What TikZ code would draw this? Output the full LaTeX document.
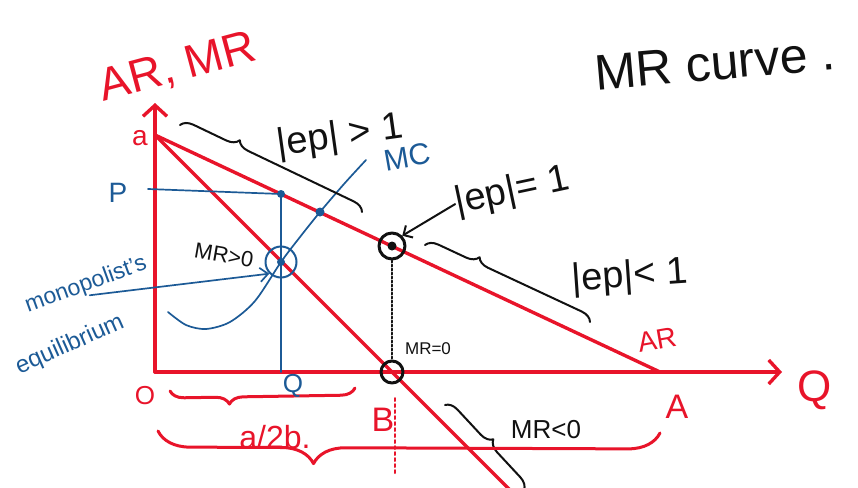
\documentclass[tikz,border=0pt]{standalone}
\usepackage{fontspec}
\setmainfont{Liberation Sans}
\usetikzlibrary{arrows.meta,decorations.pathreplacing}
\definecolor{pen}{HTML}{E8142A}
\definecolor{ink}{HTML}{1C5A96}
\definecolor{graphite}{HTML}{111111}
\tikzset{fig/.style={line join=round,line cap=round,>={Straight Barb[length=11pt,width=24pt]}},
  redln/.style={pen,line width=3.4pt},
  blueln/.style={ink,line width=1.7pt},
  hbrace/.style n args={2}{decorate,decoration={brace,amplitude=#2pt,aspect=#1},graphite,line width=2pt},
  lbl/.style={inner sep=0pt,font=\fontsize{#1}{#1}\selectfont}}

\begin{document}
\begin{tikzpicture}[fig,x=1pt,y=-1pt]
  \useasboundingbox (0,0) rectangle (858,487);
  % axes and the two demand-side lines
  \coordinate (O) at (155,372); \coordinate (ytop) at (155,103); \coordinate (xend) at (782,372);
  \coordinate (a) at (155,135); \coordinate (A) at (660,372); \coordinate (B) at (392,372);
  \coordinate (mrend) at (514,494); \coordinate (E) at (392,246);
  \draw[redln,->] (O)--(ytop); \draw[redln,->] (O)--(xend);
  \draw[redln] (a)--(A); \draw[redln] (a)--(mrend);
  % monopoly equilibrium and MC
  \coordinate (pm) at (148,189); \coordinate (Pa) at (281,194); \coordinate (eq) at (281,262);
  \coordinate (Q0) at (281,372); \coordinate (mcar) at (320,212);
  \draw[blueln] (pm)--(Pa); \draw[blueln] (Pa)--(Q0);
  \draw[blueln] plot[smooth] coordinates {(168,312) (186,325) (206,329) (230,322) (255,301) (281,262) (300,237) (320,212) (344,184) (366,160)};
  \fill[ink] (Pa) circle (4pt) (mcar) circle (4.5pt) (eq) circle (4pt);
  \node[circle,draw=ink,line width=2pt,minimum size=31pt,inner sep=0pt] (eqc) at (eq) {};
  \node[circle,draw=graphite,line width=3pt,minimum size=26pt,inner sep=0pt] (Ec) at (E) {};
  \fill[graphite] (E) circle (4.5pt);
  \node[circle,draw=graphite,line width=3pt,minimum size=22pt,inner sep=0pt] (Bc) at (B) {};
  \draw[graphite,dotted,line width=2pt] (Ec)--(Bc);
  \coordinate (d1) at (395,398); \coordinate (d2) at (395,474);
  \draw[pen,dashed,line width=2pt] (d1)--(d2);
  % braces
  \draw[hbrace={0.3}{12}] (180,125)--(362,212);
  \draw[hbrace={0.3}{12}] (425,245)--(590,322);
  \draw[hbrace={0.5}{12}] (445,405)--(524,490);
  \draw[hbrace={0.68}{14},pen,line width=3pt] (355,388)--(170,391);
  \draw[hbrace={0.69}{32},pen,line width=3pt] (660,433)--(158,431);
  % labels
  \node[lbl=46,pen,rotate=15] (yl) at (178,68) {AR, MR};
  \node[lbl=50,graphite,rotate=5] (ttl) at (715,63) {MR curve .};
  \node[lbl=28,pen] (al) at (140,138) {a};
  \node[lbl=28,ink] (pl) at (118,193) {P};
  \node[lbl=26,pen] (ol) at (145,396) {O};
  \node[lbl=26,ink] (ql) at (293,386) {Q};
  \node[lbl=34,pen] (bl) at (383,420) {B};
  \node[lbl=34,pen] (Al) at (677,407) {A};
  \node[lbl=44,pen] (xl) at (815,390) {Q};
  \node[lbl=28,pen,rotate=10] (arl) at (657,340) {AR};
  \node[lbl=32,pen] (hb) at (275,437) {a/2b.};
  \node[lbl=30,ink,rotate=10] (mcl) at (407,157) {MC};
  \node[lbl=38,graphite,rotate=8] (e1) at (340,137) {|ep| > 1};
  \node[lbl=38,graphite,rotate=12] (e2) at (512,192) {|ep|= 1};
  \node[lbl=38,graphite,rotate=4] (e3) at (630,277) {|ep|< 1};
  \node[lbl=22,graphite,rotate=-10] (mp) at (224,255) {MR>0};
  \node[lbl=17,graphite] (mz) at (428,349) {MR=0};
  \node[lbl=26,graphite] (mn) at (546,430) {MR<0};
  \node[lbl=23,ink,rotate=20] (mono) at (86,285) {monopolist's};
  \node[lbl=24,ink,rotate=24] (equi) at (70,345) {equilibrium};
  \draw[graphite,line width=2pt,-{Straight Barb[length=7pt,width=14pt]}] (e2.west)--(Ec.north east);
  \draw[blueln,-{Straight Barb[length=8pt,width=14pt]}] (mono.south)--(eqc.south west);
\end{tikzpicture}
\end{document}
